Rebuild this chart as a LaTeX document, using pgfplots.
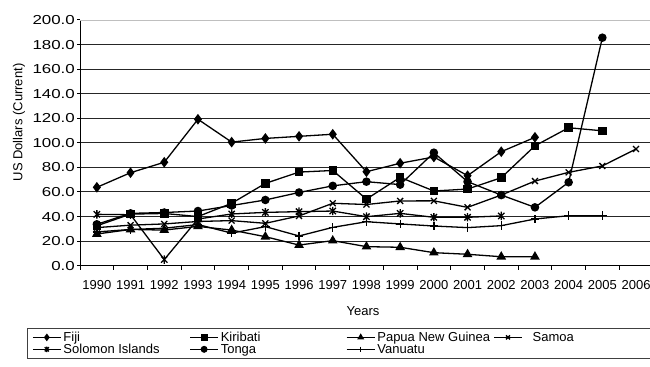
\documentclass[border=0pt]{standalone}
\usepackage{fontspec}
\setmainfont{Liberation Sans}
\usepackage{graphicx}
\usepackage{pgfplots}
\pgfplotsset{compat=1.18}

% Star marker: a cross with a vertical bar through it
\pgfdeclareplotmark{xbar}{%
  \pgfpathmoveto{\pgfqpoint{-.75\pgfplotmarksize}{-.75\pgfplotmarksize}}%
  \pgfpathlineto{\pgfqpoint{.75\pgfplotmarksize}{.75\pgfplotmarksize}}%
  \pgfpathmoveto{\pgfqpoint{-.75\pgfplotmarksize}{.75\pgfplotmarksize}}%
  \pgfpathlineto{\pgfqpoint{.75\pgfplotmarksize}{-.75\pgfplotmarksize}}%
  \pgfpathmoveto{\pgfqpoint{0pt}{-\pgfplotmarksize}}%
  \pgfpathlineto{\pgfqpoint{0pt}{\pgfplotmarksize}}%
  \pgfusepathqstroke}

% legend text cell of fixed width
\newcommand\lgentry[3][2bp]{\makebox[#2][l]{\rule[-3bp]{0pt}{10bp}\hspace{#1}#3}}

\begin{document}
\begin{tikzpicture}
\begin{axis}[
  at={(80bp,101.3bp)}, anchor=south west,
  scale only axis, width=572.9bp, height=245.7bp,
  xmin=-0.5, xmax=16.5, ymin=0, ymax=200,
  font=\fontsize{13bp}{14bp}\selectfont,
  axis x line*=bottom, axis y line*=left,
  axis line style={-, black, line width=1bp},
  tick pos=left, tick align=outside,
  xtick={0,...,16},
  xticklabels={1990,1991,1992,1993,1994,1995,1996,1997,1998,1999,2000,2001,2002,2003,2004,2005,2006},
  major x tick style={draw=none},
  minor xtick={-0.5,0.5,...,16.5},
  minor tick length=4bp,
  minor x tick style={black, line width=1bp},
  ytick={0,20,...,200},
  major tick length=3bp,
  major y tick style={black, line width=1bp},
  yticklabel={\scalebox{1.3}[1]{\pgfmathprintnumber[fixed,fixed zerofill,precision=1,assume math mode=true]{\tick}}},
  ymajorgrids, grid style={black!85, line width=1bp},
  xticklabel style={yshift=-8bp},
  yticklabel style={inner xsep=2bp},
  xlabel={Years},
  xlabel style={at={(axis description cs:0.494,-0.1844)}, anchor=center},
  ylabel={US Dollars (Current)},
  ylabel style={at={(axis description cs:-0.1065,0.583)}, anchor=center},
  every axis plot/.append style={black, line width=1.3bp, mark options={solid, fill=black}},
  legend columns=4,
  legend cell align=left,
  legend style={
    at={(-0.093,-0.2535)}, anchor=north west,
    draw=black!75, line width=0.9bp,
    inner xsep=5bp, inner ysep=3.5bp,
    column sep=0bp, row sep=1bp,
    nodes={inner sep=0bp},
    font=\fontsize{13bp}{14bp}\selectfont,
  },
  legend image code/.code={%
    \draw[mark repeat=2, mark phase=2, #1, mark size=2.8bp]
      plot coordinates {(0bp,0bp) (14bp,0bp) (28bp,0bp)};},
]

% Fiji
\addplot[mark=diamond*, mark size=4.3bp] coordinates {
 (0,63.8) (1,75.7) (2,84.2) (3,119.2) (4,100.6) (5,103.6) (6,105.3)
 (7,107.0) (8,76.5) (9,83.4) (10,88.5) (11,73.3) (12,92.8) (13,104.5)};
\addlegendentry{\lgentry{128bp}{Fiji}}

% Kiribati
\addplot[mark=square*, mark size=3.6bp] coordinates {
 (0,32.5) (1,42.0) (2,42.5) (3,40.0) (4,50.8) (5,67.0) (6,76.2)
 (7,77.5) (8,54.2) (9,71.9) (10,60.8) (11,62.4) (12,71.6) (13,97.6)
 (14,112.3) (15,109.8)};
\addlegendentry{\lgentry{127.3bp}{Kiribati}}

% Papua New Guinea
\addplot[mark=triangle*, mark size=4.3bp] coordinates {
 (0,25.8) (1,29.5) (2,29.0) (3,32.0) (4,29.0) (5,23.6) (6,16.8)
 (7,20.4) (8,15.5) (9,15.0) (10,10.6) (11,9.3) (12,7.3) (13,7.3)};
\addlegendentry{\lgentry{118bp}{Papua New Guinea}}

% Samoa
\addplot[mark=x, mark size=4.2bp] coordinates {
 (0,31.0) (1,33.0) (2,34.0) (3,36.0) (4,36.7) (5,34.5) (6,40.5)
 (7,50.8) (8,49.8) (9,52.7) (10,52.8) (11,47.5) (12,57.5) (13,68.9)
 (14,76.0) (15,81.2) (16,95.0)};
\addlegendentry{\lgentry[10bp]{123bp}{Samoa}}

% Solomon Islands
\addplot[mark=xbar, mark size=4.2bp] coordinates {
 (0,41.8) (1,41.5) (2,5.0) (3,38.0) (4,42.1) (5,43.4) (6,44.0)
 (7,44.5) (8,39.9) (9,42.6) (10,39.4) (11,39.4) (12,40.5)};
\addlegendentry{\lgentry{128bp}{Solomon Islands\rule[-14bp]{0pt}{0pt}}}

% Tonga
\addplot[mark=*, mark size=3.6bp] coordinates {
 (0,33.7) (1,42.6) (2,43.3) (3,44.5) (4,49.0) (5,53.5) (6,59.6)
 (7,65.0) (8,68.4) (9,66.0) (10,92.0) (11,68.4) (12,57.5) (13,47.5)
 (14,67.9) (15,185.6)};
\addlegendentry{\lgentry{127.3bp}{Tonga}}

% Vanuatu
\addplot[mark=+, mark size=4.2bp] coordinates {
 (0,27.5) (1,29.5) (2,30.5) (3,33.5) (4,26.5) (5,31.8) (6,24.2)
 (7,31.2) (8,35.8) (9,34.0) (10,32.3) (11,31.0) (12,32.6) (13,38.0)
 (14,40.7) (15,40.7)};
\addlegendentry{\lgentry{118bp}{Vanuatu}}

% light frame line along the top of the plot area
\draw[white, line width=2bp] (rel axis cs:0,1) -- (rel axis cs:1,1);
\draw[black!25, line width=0.8bp] (rel axis cs:0,1) -- (rel axis cs:1,1);
\end{axis}
\pgfresetboundingbox
\path[use as bounding box] (0bp,0bp) rectangle (650bp,367bp);
\end{tikzpicture}
\end{document}
